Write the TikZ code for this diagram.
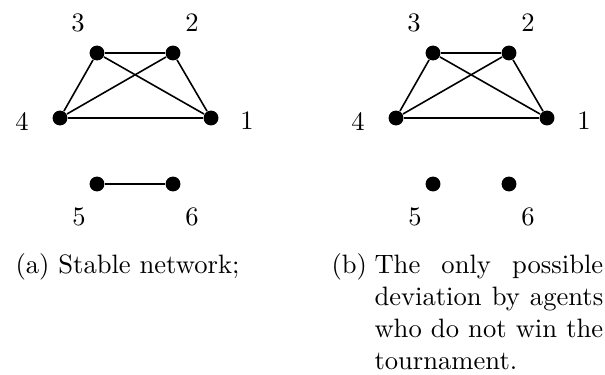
\documentclass[tikz,border=0pt]{standalone}
\begin{document}
\begin{tikzpicture}[x=0.376pt,y=-0.376pt,
  dot/.style={circle,fill=black,inner sep=0pt,minimum size=5.6pt},
  lbl/.style={inner sep=0pt},
  capline/.style={inner sep=0pt,anchor=base west},
  edge/.style={line width=0.6pt}]
\useasboundingbox (0,0) rectangle (605,374);
% left graph
\node[dot] (a3) at (97,53) {};
\node[dot] (a2) at (173,53) {};
\node[dot] (a4) at (60,118) {};
\node[dot] (a1) at (211,118) {};
\node[dot] (a5) at (97,184) {};
\node[dot] (a6) at (173,184) {};
\node[lbl] (la3) at (78,23) {3};
\node[lbl] (la2) at (192,23) {2};
\node[lbl] (la4) at (22,121) {4};
\node[lbl] (la1) at (247,121) {1};
\node[lbl] (la5) at (79,217) {5};
\node[lbl] (la6) at (192,217) {6};
\draw[edge] (a3) -- (a2);
\draw[edge] (a3) -- (a4);
\draw[edge] (a3) -- (a1);
\draw[edge] (a2) -- (a4);
\draw[edge] (a2) -- (a1);
\draw[edge] (a4) -- (a1);
\draw[edge] (a5) -- (a6);
% right graph
\node[dot] (b3) at (433,53) {};
\node[dot] (b2) at (509,53) {};
\node[dot] (b4) at (396,118) {};
\node[dot] (b1) at (547,118) {};
\node[dot] (b5) at (433,184) {};
\node[dot] (b6) at (509,184) {};
\node[lbl] (lb3) at (414,23) {3};
\node[lbl] (lb2) at (528,23) {2};
\node[lbl] (lb4) at (358,121) {4};
\node[lbl] (lb1) at (584,121) {1};
\node[lbl] (lb5) at (415,217) {5};
\node[lbl] (lb6) at (528,217) {6};
\draw[edge] (b3) -- (b2);
\draw[edge] (b3) -- (b4);
\draw[edge] (b3) -- (b1);
\draw[edge] (b2) -- (b4);
\draw[edge] (b2) -- (b1);
\draw[edge] (b4) -- (b1);
% captions
\node[capline] (capa) at (15,273) {(a) Stable network;};
\node[capline] (capb) at (331,273) {(b)};
\node[capline] (cb1) at (374,273) {\makebox[86pt][s]{The only possible}};
\node[capline] (cb2) at (374,305) {\makebox[86pt][s]{deviation by agents}};
\node[capline] (cb3) at (374,337) {\makebox[86pt][s]{who do not win the}};
\node[capline] (cb4) at (374,369) {tournament.};
\end{tikzpicture}
\end{document}
